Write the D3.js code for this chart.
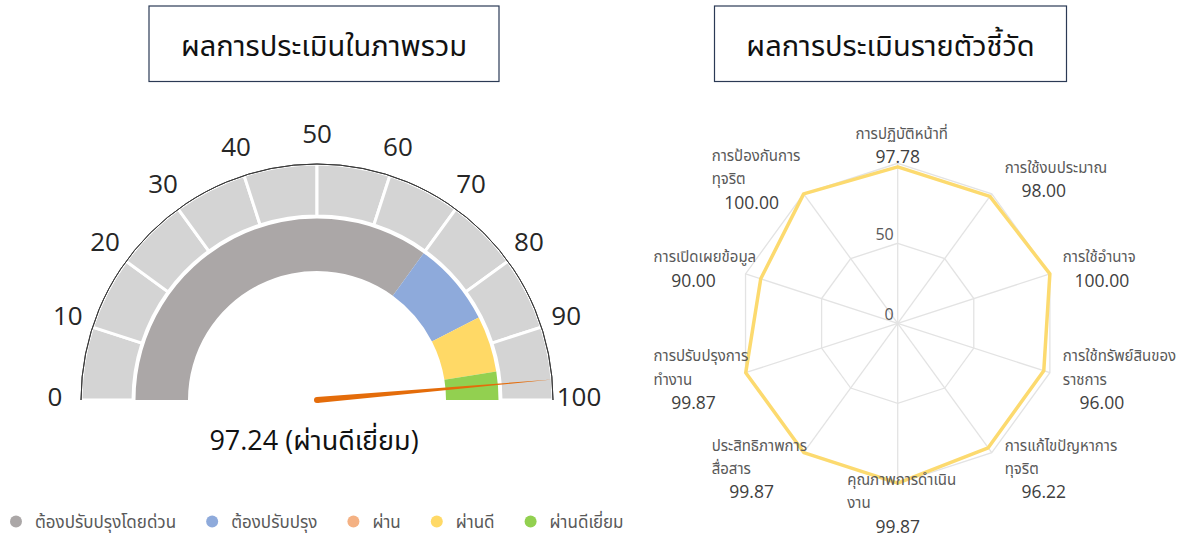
<!DOCTYPE html>
<html>
<head>
<meta charset="utf-8">
<script src="https://cdn.jsdelivr.net/npm/d3@7"></script>
<style>
  body { margin: 0; background: #fff; }
  svg { display: block; font-family: "Open Sans", "Noto Sans", "Noto Sans Thai", sans-serif; }
</style>
</head>
<body>
<div id="chart"></div>
<script>
// overall score
var score = 97.24;
var scoreLevel = "ผ่านดีเยี่ยม";

// gauge levels (legend order)
var levelNames = ["ต้องปรับปรุงโดยด่วน", "ต้องปรับปรุง", "ผ่าน", "ผ่านดี", "ผ่านดีเยี่ยม"];
var levelColors = ["#aba7a7", "#8eaadb", "#f4b183", "#ffd966", "#92d050"];
var levelFrom = [0, 70, 85, 85, 95];
var levelTo = [70, 85, 85, 95, 100];

// gauge ticks
var gaugeTicks = [0, 10, 20, 30, 40, 50, 60, 70, 80, 90, 100];

// indicators (radar), label lines as shown
var indicators = [
    ["การปฏิบัติหน้าที่"],
    ["การใช้งบประมาณ"],
    ["การใช้อำนาจ"],
    ["การใช้ทรัพย์สินของ", "ราชการ"],
    ["การแก้ไขปัญหาการ", "ทุจริต"],
    ["คุณภาพการดำเนิน", "งาน"],
    ["ประสิทธิภาพการ", "สื่อสาร"],
    ["การปรับปรุงการ", "ทำงาน"],
    ["การเปิดเผยข้อมูล"],
    ["การป้องกันการ", "ทุจริต"]
];
var indicatorScores = [97.78, 98.00, 100.00, 96.00, 96.22, 99.87, 99.87, 99.87, 90.00, 100.00];
var radarTicks = [0, 50, 100];

var titles = ["ผลการประเมินในภาพรวม", "ผลการประเมินรายตัวชี้วัด"];

function init() {
    var w = 1189, h = 538;
    var svg = d3.select("#chart").append("svg")
        .attr("width", w)
        .attr("height", h);

    // title boxes
    var boxes = [{x: 149, w: 350, t: titles[0]}, {x: 714.5, w: 352, t: titles[1]}];
    boxes.forEach(function (b) {
        svg.append("rect")
            .attr("x", b.x).attr("y", 6).attr("width", b.w).attr("height", 75.5)
            .attr("fill", "none").attr("stroke", "#2b3a55").attr("stroke-width", 1.2);
        svg.append("text")
            .attr("x", b.x + b.w / 2).attr("y", 44)
            .attr("text-anchor", "middle").attr("dominant-baseline", "central")
            .attr("font-size", "29px").attr("fill", "#111")
            .text(b.t);
    });

    // ---------- gauge ----------
    var gcx = 317, gcy = 400, R = 236;
    var angle = d3.scaleLinear().domain([0, 100]).range([-Math.PI / 2, Math.PI / 2]);
    var g = svg.append("g").attr("transform", "translate(" + gcx + "," + gcy + ")");

    var outerArc = d3.arc().innerRadius(184).outerRadius(R);
    var segs = d3.range(10).map(function (i) { return [i * 10, i * 10 + 10]; });
    g.selectAll(".seg").data(segs).enter().append("path")
        .attr("class", "seg")
        .attr("d", function (d) { return outerArc({startAngle: angle(d[0]), endAngle: angle(d[1])}); })
        .attr("fill", "#d4d4d4")
        .attr("stroke", "#fff").attr("stroke-width", 3);

    g.append("path")
        .attr("d", d3.arc().innerRadius(R).outerRadius(R)({startAngle: angle(0), endAngle: angle(100)}))
        .attr("fill", "none").attr("stroke", "#3a3a3a").attr("stroke-width", 1);

    var innerArc = d3.arc().innerRadius(129).outerRadius(181.5);
    var bands = levelFrom.map(function (f, i) { return {from: f, to: levelTo[i], color: levelColors[i]}; })
        .filter(function (d) { return d.to > d.from; });
    g.selectAll(".band").data(bands).enter().append("path")
        .attr("class", "band")
        .attr("d", function (d) { return innerArc({startAngle: angle(d.from), endAngle: angle(d.to)}); })
        .attr("fill", function (d) { return d.color; });

    // needle
    var a = angle(score), bw = 3;
    var tip = [R * Math.sin(a), -R * Math.cos(a)];
    var px = Math.cos(a) * bw, py = Math.sin(a) * bw;
    g.append("path")
        .attr("d", "M" + (-px) + "," + (-py) + "L" + tip[0] + "," + tip[1] + "L" + px + "," + py + "Z")
        .attr("fill", "#e46c0a");
    g.append("circle").attr("r", bw).attr("fill", "#e46c0a");

    // tick labels
    g.selectAll(".gtick").data(gaugeTicks).enter().append("text")
        .attr("class", "gtick")
        .attr("x", function (d) { return 262 * Math.sin(angle(d)); })
        .attr("y", function (d) { return -263 * Math.cos(angle(d)) - 4; })
        .attr("text-anchor", "middle").attr("dominant-baseline", "central")
        .attr("font-size", "26px").attr("fill", "#262626")
        .text(function (d) { return d; });

    svg.append("text")
        .attr("x", gcx - 3).attr("y", 450)
        .attr("text-anchor", "middle")
        .attr("font-size", "27px").attr("fill", "#111")
        .text(score.toFixed(2) + " (" + scoreLevel + ")");

    // legend
    var lx = 16;
    levelNames.forEach(function (name, i) {
        svg.append("circle")
            .attr("cx", lx).attr("cy", 521.5).attr("r", 6)
            .attr("fill", levelColors[i]);
        var t = svg.append("text")
            .attr("x", lx + 19).attr("y", 528)
            .attr("font-size", "17px").attr("fill", "#595959")
            .text(name);
        lx = lx + 19 + t.node().getComputedTextLength() + 36;
    });

    // ---------- radar ----------
    var rcx = 897.7, rcy = 323.3;
    var r = d3.scaleLinear().domain([0, 100]).range([0, 160]);
    var n = indicators.length;
    var ang = function (i) { return i * 2 * Math.PI / n; };
    var rg = svg.append("g").attr("transform", "translate(" + rcx + "," + rcy + ")");

    radarTicks.filter(function (t) { return t > 0; }).forEach(function (t) {
        rg.append("path")
            .attr("d", d3.lineRadial().curve(d3.curveLinearClosed)
                .angle(function (d, i) { return ang(i); })
                .radius(function () { return r(t); })(indicators))
            .attr("fill", "none").attr("stroke", "#e3e3e3").attr("stroke-width", 1.3);
    });
    rg.selectAll(".spoke").data(indicators).enter().append("line")
        .attr("class", "spoke")
        .attr("x2", function (d, i) { return r(100) * Math.sin(ang(i)); })
        .attr("y2", function (d, i) { return -r(100) * Math.cos(ang(i)); })
        .attr("stroke", "#e3e3e3").attr("stroke-width", 1.3);

    rg.selectAll(".rtick").data(radarTicks.filter(function (t) { return t < 100; })).enter().append("text")
        .attr("class", "rtick")
        .attr("x", -4).attr("y", function (d) { return -r(d) - 3; })
        .attr("text-anchor", "end")
        .attr("font-size", "16px").attr("fill", "#595959")
        .text(function (d) { return d; });

    rg.append("path")
        .attr("d", d3.lineRadial().curve(d3.curveLinearClosed)
            .angle(function (d, i) { return ang(i); })
            .radius(function (d) { return r(d); })(indicatorScores))
        .attr("fill", "none").attr("stroke", "#fcda6f").attr("stroke-width", 3.5)
        .attr("stroke-linejoin", "round");

    // labels
    var lh = 23.3;
    indicators.forEach(function (lines, i) {
        var s = Math.sin(ang(i)), c = Math.cos(ang(i));
        var vx = r(100) * s, vy = -r(100) * c;
        var total = lines.length + 1;
        var yc = vy - 19 * c;
        var y0 = yc - (total - 1) * lh / 2;
        var lg = rg.append("g");
        var texts = lines.map(function (ln, k) {
            return lg.append("text")
                .attr("y", y0 + k * lh)
                .attr("dominant-baseline", "central")
                .attr("font-size", "15px").attr("fill", "#595959")
                .text(ln);
        });
        var left, valx;
        if (Math.abs(s) < 0.1) {
            var mw = d3.max(texts, function (t) { return t.node().getComputedTextLength(); });
            left = vx - mw / 2 + 4;
            valx = vx;
        } else if (s > 0) {
            left = vx + 13;
            valx = vx + 52;
        } else {
            left = vx - 92;
            valx = vx - 52;
        }
        texts.forEach(function (t) { t.attr("x", left); });
        lg.append("text")
            .attr("x", valx).attr("y", y0 + lines.length * lh)
            .attr("text-anchor", "middle").attr("dominant-baseline", "central")
            .attr("font-size", "17.5px").attr("fill", "#404040")
            .text(indicatorScores[i].toFixed(2));
    });
}

window.onload = init;
</script>
</body>
</html>
